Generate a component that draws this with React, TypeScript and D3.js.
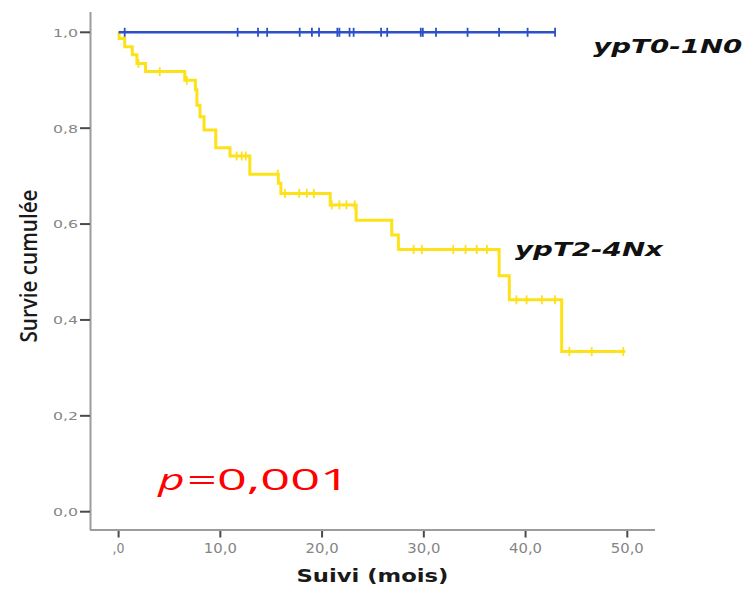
import React from 'react';
import * as d3 from 'd3';

const xTicks = [0, 10, 20, 30, 40, 50];
const xTickLabels = [',0', '10,0', '20,0', '30,0', '40,0', '50,0'];
const yTicks = [0, 0.2, 0.4, 0.6, 0.8, 1.0];
const yTickLabels = ['0,0', '0,2', '0,4', '0,6', '0,8', '1,0'];

// ypT0-1N0 (blue): no events, censored only
const blueEnd = 42.9;
const blueCensorTimes = [0.6, 11.7, 13.7, 14.6, 17.8, 19.0, 19.7, 21.5, 21.7, 22.7, 23.1, 25.8, 26.4, 29.7, 29.9, 31.2, 34.3, 37.4, 40.2, 42.9];

// ypT2-4Nx (yellow)
const yellowEventTimes = [0.05, 0.6, 1.35, 1.8, 2.65, 6.5, 7.55, 7.7, 8.0, 8.4, 9.55, 10.95, 12.9, 15.7, 15.95, 20.8, 23.35, 26.85, 27.5, 37.4, 38.4, 43.55];
const yellowSurvival = [0.987, 0.97, 0.953, 0.935, 0.918, 0.9, 0.88, 0.848, 0.824, 0.796, 0.759, 0.742, 0.704, 0.685, 0.664, 0.64, 0.608, 0.577, 0.547, 0.492, 0.442, 0.334];
const yellowEnd = 49.8;
const yellowCensorTimes = [1.95, 4.05, 6.7, 11.6, 12.1, 12.5, 15.65, 16.35, 17.75, 18.5, 19.2, 20.95, 21.7, 22.4, 23.2, 29.0, 29.8, 32.9, 34.1, 35.2, 36.2, 39.1, 40.1, 41.6, 42.9, 44.3, 46.5, 49.6];

const groupLabels = ['ypT0-1N0', 'ypT2-4Nx'];
const pValueText = '=0,001';

const BLUE = '#2c50c8';
const YELLOW = '#fde21a';

export default function App() {
  const x = d3.scaleLinear().domain([0, 50]).range([118.6, 627.3]);
  const y = d3.scaleLinear().domain([0, 1]).range([511.7, 32.3]);

  const line = d3
    .line<[number, number]>()
    .x((d) => x(d[0]))
    .y((d) => y(d[1]))
    .curve(d3.curveStepAfter);

  const yellowPts: [number, number][] = [[0, 1]];
  yellowEventTimes.forEach((t, i) => yellowPts.push([t, yellowSurvival[i]]));
  yellowPts.push([yellowEnd, yellowSurvival[yellowSurvival.length - 1]]);

  const survAt = (t: number) => {
    let s = 1;
    yellowEventTimes.forEach((et, i) => {
      if (et <= t) s = yellowSurvival[i];
    });
    return s;
  };

  const bluePts: [number, number][] = [[0, 1], [blueEnd, 1]];

  const axisColor = '#9c9c9c';
  const tickColor = '#4a4a4a';
  const labelColor = '#858585';

  return (
    <svg
      width={749}
      height={589}
      style={{ position: 'absolute', left: 0, top: 0, display: 'block', background: '#fff' }}
    >
      <rect x={0} y={0} width={749} height={589} fill="#fff" />
      {/* axes */}
      <line x1={90.5} x2={90.5} y1={12} y2={530} stroke={axisColor} strokeWidth={2} />
      <line x1={90} x2={655} y1={530} y2={530} stroke={axisColor} strokeWidth={2} />
      {yTicks.map((v, i) => (
        <g key={'yt' + i}>
          <line x1={80} x2={90} y1={y(v)} y2={y(v)} stroke={tickColor} strokeWidth={2} />
          <text
            x={78}
            y={y(v) + 4.4}
            textAnchor="end"
            fontFamily="DejaVu Sans"
            fontSize={11}
            fill={labelColor}
            textLength={25}
            lengthAdjust="spacingAndGlyphs"
          >
            {yTickLabels[i]}
          </text>
        </g>
      ))}
      {xTicks.map((v, i) => (
        <g key={'xt' + i}>
          <line x1={x(v)} x2={x(v)} y1={531} y2={537.5} stroke={tickColor} strokeWidth={2} />
          <text
            x={x(v)}
            y={553}
            textAnchor="middle"
            fontFamily="DejaVu Sans"
            fontSize={13.5}
            fill={labelColor}
            textLength={i === 0 ? 12 : 33}
            lengthAdjust="spacingAndGlyphs"
          >
            {xTickLabels[i]}
          </text>
        </g>
      ))}

      {/* axis titles */}
      <text
        transform="translate(36.5,266) rotate(-90)"
        textAnchor="middle"
        fontFamily="Open Sans"
        fontWeight={600}
        fontSize={23}
        fill="#1a1a1a"
        textLength={153}
        lengthAdjust="spacingAndGlyphs"
      >
        Survie cumulée
      </text>
      <text
        x={372.5}
        y={581.7}
        textAnchor="middle"
        fontFamily="DejaVu Sans"
        fontWeight="bold"
        fontSize={17.5}
        fill="#1a1a1a"
        textLength={152}
        lengthAdjust="spacingAndGlyphs"
      >
        Suivi (mois)
      </text>

      {/* yellow curve */}
      <path d={line(yellowPts) || ''} fill="none" stroke={YELLOW} strokeWidth={3} />
      {yellowCensorTimes.map((t, i) => (
        <line
          key={'yc' + i}
          x1={x(t)}
          x2={x(t)}
          y1={y(survAt(t)) - 4.5}
          y2={y(survAt(t)) + 4.5}
          stroke={YELLOW}
          strokeWidth={1.8}
        />
      ))}

      {/* blue curve */}
      <path d={line(bluePts) || ''} fill="none" stroke={BLUE} strokeWidth={2.6} />
      {blueCensorTimes.map((t, i) => (
        <line
          key={'bc' + i}
          x1={x(t)}
          x2={x(t)}
          y1={y(1) - 4.5}
          y2={y(1) + 4.5}
          stroke={BLUE}
          strokeWidth={1.8}
        />
      ))}

      {/* group labels */}
      <text
        x={593.3}
        y={53.3}
        fontFamily="DejaVu Sans"
        fontWeight="bold"
        fontStyle="italic"
        fontSize={19}
        fill="#111"
        textLength={149}
        lengthAdjust="spacingAndGlyphs"
      >
        {groupLabels[0]}
      </text>
      <text
        x={515}
        y={256}
        fontFamily="DejaVu Sans"
        fontWeight="bold"
        fontStyle="italic"
        fontSize={19}
        fill="#111"
        textLength={148}
        lengthAdjust="spacingAndGlyphs"
      >
        {groupLabels[1]}
      </text>

      {/* p-value */}
      <text
        x={158.3}
        y={490}
        fontFamily="Open Sans"
        fontStyle="italic"
        fontSize={30}
        fill="#ff0000"
        textLength={26.5}
        lengthAdjust="spacingAndGlyphs"
      >
        p
      </text>
      <text
        x={187}
        y={490}
        fontFamily="Open Sans"
        fontSize={30}
        fill="#ff0000"
        textLength={163}
        lengthAdjust="spacingAndGlyphs"
      >
        {pValueText}
      </text>
    </svg>
  );
}
